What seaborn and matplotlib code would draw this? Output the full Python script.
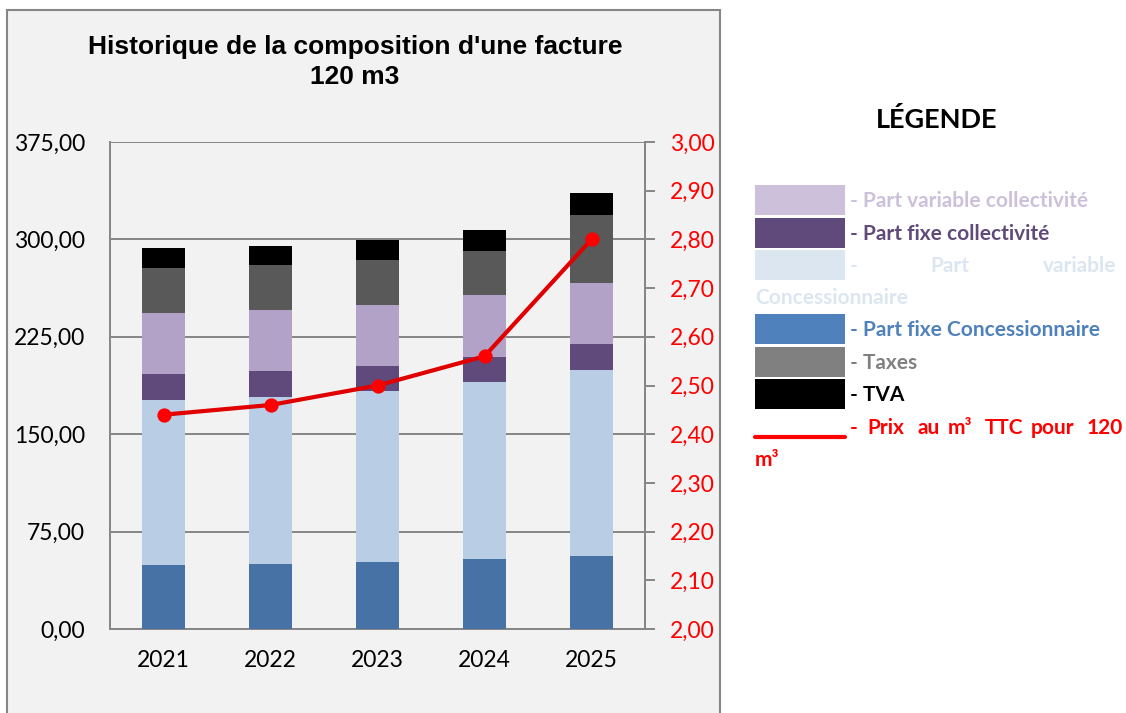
import numpy as np
import pandas as pd
import matplotlib
matplotlib.use("Agg")
import matplotlib.pyplot as plt
from matplotlib.patches import Rectangle
from matplotlib.lines import Line2D
from matplotlib.ticker import FuncFormatter
import seaborn as sns

# Data (EUR for a 120 m3 bill)
years = ["2021", "2022", "2023", "2024", "2025"]
part_fixe_conc = [49.5, 50.2, 51.8, 53.8, 56.4]
part_var_conc = [127.1, 128.7, 131.5, 136.4, 143.1]
part_fixe_coll = [20.0, 19.8, 19.5, 19.5, 20.0]
part_var_coll = [46.7, 46.9, 46.9, 47.5, 46.7]
taxes = [34.6, 34.6, 34.4, 34.0, 52.3]
tva = [15.2, 14.9, 15.4, 16.0, 17.4]
prix_m3 = [2.44, 2.46, 2.50, 2.56, 2.80]

components = ["Part fixe Concessionnaire", "Part variable Concessionnaire",
              "Part fixe collectivité", "Part variable collectivité", "Taxes", "TVA"]
values = [part_fixe_conc, part_var_conc, part_fixe_coll, part_var_coll, taxes, tva]
bar_colors = ["#4672A6", "#B9CDE5", "#604A7B", "#B3A2C7", "#595959", "#000000"]

sns.set_theme(style="white")
body_font = ["Lato", "DejaVu Sans"]
title_font = ["Liberation Sans Narrow", "Liberation Sans", "DejaVu Sans"]
plt.rcParams["font.family"] = body_font
plt.rcParams["text.color"] = "black"

fig = plt.figure(figsize=(11.26, 7.13), dpi=100, facecolor="white")

# chart frame
fig.add_artist(Rectangle((7 / 1126, -0.02), 713 / 1126, 1.02 - 10 / 713,
                         transform=fig.transFigure, facecolor="#F2F2F2",
                         edgecolor="#868686", linewidth=1.5, zorder=0))

ax = fig.add_axes([110 / 1126, 84 / 713, 535 / 1126, 487 / 713])
ax.set_facecolor("#F2F2F2")

# long table, cumulated for stacking
df = pd.DataFrame({"year": np.repeat(years, len(components)),
                   "component": components * len(years),
                   "value": np.array(values).T.ravel()})
df["cum"] = df.groupby("year")["value"].cumsum()

# draw from top layer down so each lower layer covers the one above
for comp, col in reversed(list(zip(components, bar_colors))):
    sub = df[df["component"] == comp]
    sns.barplot(data=sub, x="year", y="cum", color=col, saturation=1,
                width=0.4, errorbar=None, ax=ax, zorder=3, linewidth=0)

ax.set_ylim(0, 375)
ax.set_yticks(np.arange(0, 376, 75))
ax.yaxis.set_major_formatter(FuncFormatter(lambda v, p: f"{v:.2f}".replace(".", ",")))
ax.grid(axis="y", color="#868686", linewidth=1.4, zorder=1)
ax.set_axisbelow(True)
ax.tick_params(axis="y", length=0, pad=18, labelsize=16.5, labelcolor="black")
ax.tick_params(axis="x", length=0, pad=15, labelsize=16.5, labelcolor="black")
ax.set_xlabel("")
ax.set_ylabel("")
for side in ["left", "bottom", "right"]:
    ax.spines[side].set_color("#868686")
    ax.spines[side].set_linewidth(1.4)
ax.spines["top"].set_visible(False)

ax2 = ax.twinx()
sns.pointplot(x=years, y=prix_m3, ax=ax2, color="#E00000", markers="o",
              markersize=8, linewidth=3)
for ln in ax2.lines:
    ln.set_markerfacecolor("#FF0000")
    ln.set_markeredgecolor("#FF0000")
    ln.set_zorder(5)
ax2.set_ylim(2.0, 3.0)
ax2.set_yticks(np.arange(2.0, 3.001, 0.1))
ax2.yaxis.set_major_formatter(FuncFormatter(lambda v, p: f"{v:.2f}".replace(".", ",")))
ax2.tick_params(axis="y", length=7, width=1.4, color="#868686", pad=11,
                labelsize=16.5, labelcolor="#FF0000")
ax2.set_xlim(-0.5, 4.5)
ax.set_xlim(-0.5, 4.5)
ax2.set_ylabel("")
for side in ["left", "bottom", "top"]:
    ax2.spines[side].set_visible(False)
ax2.spines["right"].set_color("#868686")
ax2.spines["right"].set_linewidth(1.4)

# title
fig.text(355 / 1126, 1 - 62 / 713, "Historique de la composition d'une facture\n120 m3",
         ha="center", va="center", fontsize=19, fontweight="bold", color="black",
         family=title_font, linespacing=1.3)

# legend box on the right
fig.text(937 / 1126, 1 - 120 / 713, "LÉGENDE", ha="center", va="center",
         fontsize=19.5, fontweight="bold", color="black")

leg_rows = [
    (185, "#CCC0DA", "- Part variable collectivité", "#CCC0DA"),
    (218, "#604A7B", "- Part fixe collectivité", "#604A7B"),
    (250, "#DCE6F1", None, "#DCE6F1"),
    (314, "#4F81BD", "- Part fixe Concessionnaire", "#4F81BD"),
    (347, "#808080", "- Taxes", "#808080"),
    (379, "#000000", "- TVA", "#000000"),
]
lfs = 15
for top, fc, label, tc in leg_rows:
    fig.add_artist(Rectangle((755 / 1126, 1 - (top + 30) / 713), 90 / 1126, 30 / 713,
                             transform=fig.transFigure, facecolor=fc, edgecolor="none"))
    if label:
        fig.text(850 / 1126, 1 - (top + 16) / 713, label, ha="left", va="center",
                 fontsize=lfs, fontweight="bold", color=tc)

# justified text of the third row
for word, xw in [("-", 850), ("Part", 930), ("variable", 1043)]:
    fig.text(xw / 1126, 1 - 266 / 713, word, ha="left", va="center",
             fontsize=lfs, fontweight="bold", color="#DCE6F1")
fig.text(755 / 1126, 1 - 298 / 713, "Concessionnaire", ha="left", va="center",
         fontsize=lfs, fontweight="bold", color="#DCE6F1")

# line entry
fig.add_artist(Line2D([755 / 1126, 845 / 1126], [1 - 437 / 713, 1 - 437 / 713],
                      transform=fig.transFigure, color="#FF0000", linewidth=3))
for word, xw in [("-", 850), ("Prix", 867), ("au", 917), ("m³", 948), ("TTC", 985),
                 ("pour", 1031), ("120", 1087)]:
    fig.text(xw / 1126, 1 - 428 / 713, word, ha="left", va="center",
             fontsize=lfs, fontweight="bold", color="#FF0000")
fig.text(755 / 1126, 1 - 460 / 713, "m³", ha="left", va="center",
         fontsize=lfs, fontweight="bold", color="#FF0000")

fig.savefig("out.png", dpi=100, facecolor="white")
